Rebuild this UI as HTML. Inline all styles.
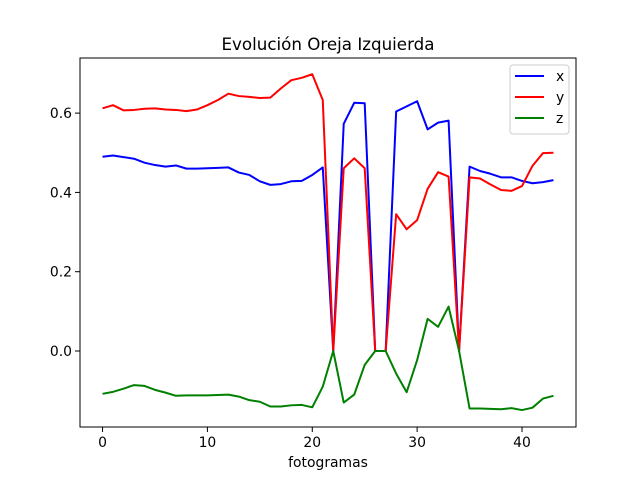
<!DOCTYPE html>
<html><head><meta charset="utf-8"><style>
body{margin:0;background:#fff}
svg text{font-family:"DejaVu Sans","Liberation Sans",sans-serif;fill:#000}
</style></head><body>
<svg id="chart" width="640" height="480" viewBox="0 0 640 480" xmlns="http://www.w3.org/2000/svg">
<rect width="640" height="480" fill="#fff"/>
<text x="328" y="50" font-size="16.7" text-anchor="middle">Evolución Oreja Izquierda</text>
<g id="plot"></g>
<rect x="80" y="58" width="496" height="369" fill="none" stroke="#000" stroke-width="1"/>
<text x="328" y="467" font-size="13.9" text-anchor="middle">fotogramas</text>
<g>
<rect x="510" y="65" width="59" height="69" rx="3" fill="#fff" fill-opacity="0.8" stroke="#ccc"/>
<line x1="515" y1="76" x2="544" y2="76" stroke="blue" stroke-width="2"/><text x="556" y="81" font-size="13.9">x</text>
<line x1="515" y1="97" x2="544" y2="97" stroke="red" stroke-width="2"/><text x="556" y="102" font-size="13.9">y</text>
<line x1="515" y1="118" x2="544" y2="118" stroke="green" stroke-width="2"/><text x="556" y="123" font-size="13.9">z</text>
</g>
</svg>
<script>
const seriesX=[0.49,0.493,0.489,0.485,0.475,0.469,0.465,0.468,0.46,0.46,0.461,0.462,0.463,0.45,0.444,0.428,0.419,0.421,0.428,0.429,0.444,0.463,0.0,0.573,0.626,0.625,0.0,0.0,0.604,0.617,0.63,0.559,0.576,0.581,0.0,0.465,0.454,0.447,0.438,0.438,0.429,0.423,0.426,0.431];
const seriesY=[0.612,0.62,0.607,0.608,0.611,0.612,0.609,0.608,0.605,0.609,0.62,0.633,0.649,0.643,0.641,0.638,0.639,0.662,0.683,0.689,0.698,0.633,0.0,0.461,0.486,0.461,0.0,0.0,0.345,0.307,0.33,0.409,0.451,0.44,0.0,0.438,0.435,0.42,0.406,0.404,0.416,0.467,0.499,0.5];
const seriesZ=[-0.108,-0.103,-0.095,-0.086,-0.088,-0.098,-0.105,-0.113,-0.112,-0.112,-0.112,-0.111,-0.11,-0.115,-0.124,-0.128,-0.14,-0.14,-0.137,-0.136,-0.142,-0.09,0.0,-0.13,-0.11,-0.035,0.0,0.0,-0.057,-0.104,-0.023,0.081,0.061,0.112,0.0,-0.145,-0.145,-0.146,-0.147,-0.144,-0.149,-0.143,-0.12,-0.113];
const xTicks=[0,10,20,30,40];
const yTicks=[0.0,0.2,0.4,0.6];
const yTickLabels=["0.0","0.2","0.4","0.6"];
const NS="http://www.w3.org/2000/svg";
const L=80,R=576,T=58,B=427,xmin=-2.15,xmax=45.15,ymin=-0.1917,ymax=0.739;
const sx=v=>L+(v-xmin)/(xmax-xmin)*(R-L);
const sy=v=>B-(v-ymin)/(ymax-ymin)*(B-T);
const svg=document.getElementById('chart'),plot=document.getElementById('plot');
function mk(t,a){const e=document.createElementNS(NS,t);for(const k in a)e.setAttribute(k,a[k]);return e;}
xTicks.forEach(t=>{
 const g=mk('g',{});
 
 
 g.appendChild(mk('line',{x1:sx(t),x2:sx(t),y1:B,y2:B+5,stroke:'#000'}));
 const tx=mk('text',{x:sx(t),y:B+20,'font-size':13.9,'text-anchor':'middle'});tx.textContent=t;g.appendChild(tx);
 svg.appendChild(g);
});
yTicks.forEach((t,i)=>{
 const g=mk('g',{});
 
 
 g.appendChild(mk('line',{x1:L-5,x2:L,y1:sy(t),y2:sy(t),stroke:'#000'}));
 const tx=mk('text',{x:L-8,y:sy(t)+5,'font-size':13.9,'text-anchor':'end'});tx.textContent=yTickLabels[i];g.appendChild(tx);
 svg.appendChild(g);
});
[[seriesX,'blue','series-x'],[seriesY,'red','series-y'],[seriesZ,'green','series-z']].forEach(([d,c,n])=>{
 const p=mk('polyline',{points:d.map((v,i)=>sx(i)+','+sy(v)).join(' '),fill:'none',stroke:c,'stroke-width':2,'stroke-linejoin':'round'});
 
 
 plot.appendChild(p);
});
</script>
</body></html>
